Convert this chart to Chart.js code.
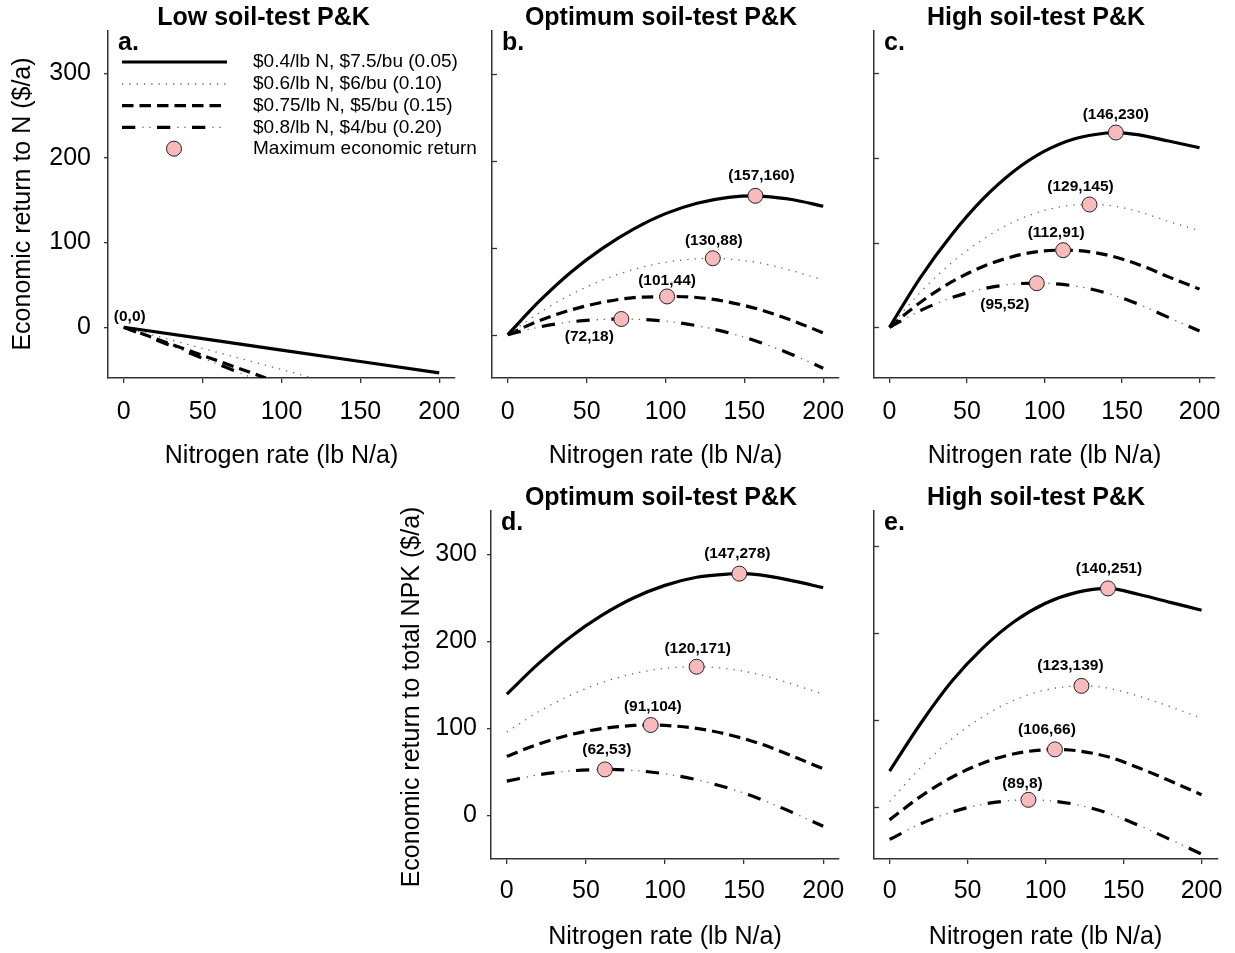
<!DOCTYPE html>
<html>
<head>
<meta charset="utf-8">
<script src="https://cdn.jsdelivr.net/npm/chart.js@4.4.1/dist/chart.umd.min.js"></script>
<style>
  html, body { margin: 0; padding: 0; background: #fff; }
  #page { position: relative; width: 1235px; height: 953px; overflow: hidden; }
  #page canvas { position: absolute; }
</style>
</head>
<body>
<div id="page"></div>
<script>
// ---- data ----
const nRate = [0, 20, 40, 60, 80, 100, 120, 140, 160, 180, 200];
const xTicks = [0, 50, 100, 150, 200];
const yTicks = [0, 100, 200, 300];

const seriesLabels = [
    '$0.4/lb N, $7.5/bu (0.05)',
    '$0.6/lb N, $6/bu (0.10)',
    '$0.75/lb N, $5/bu (0.15)',
    '$0.8/lb N, $4/bu (0.20)'
];
const markerLabel = 'Maximum economic return';

// a. low soil-test P&K, return to N (straight lines, cut at the axis)
const lowRate005 = [0, 50, 100, 150, 200];
const lowRet005 = [0, -13.5, -27, -40.5, -54];
const lowRate010 = [0, 40, 80, 120];
const lowRet010 = [0, -20, -40, -60];
const lowRate015 = [0, 30, 60, 90];
const lowRet015 = [0, -20, -40, -60];
const lowRate020 = [0, 27, 54, 82];
const lowRet020 = [0, -19.7, -39.5, -60];
const lowMax = [[0, 0]];

// b. optimum soil-test P&K, return to N
const optN005 = [0, 38.5, 72, 99.5, 122, 139.5, 151.5, 158.3, 159.7, 155.8, 148];
const optN010 = [0, 25.2, 46.1, 62.8, 75.2, 83.4, 87.4, 87.1, 82.6, 73.8, 63];
const optN015 = [0, 16, 28.4, 37.3, 42.7, 43.9, 42.8, 37.6, 28.8, 16.5, 2];
const optN020 = [0, 8.8, 14.7, 17.5, 17.8, 15.6, 10.2, 2.1, -9, -22.8, -38.7];
const optNMax = [[157, 160], [130, 88], [101, 44], [72, 18]];

// c. high soil-test P&K, return to N
const highN005 = [0, 59, 109, 151, 184, 208, 223, 229.5, 227.5, 220, 212];
const highN010 = [0, 41.5, 76, 103.5, 124.5, 138, 144.6, 144.3, 137, 125, 114];
const highN015 = [0, 29.5, 53.5, 71.5, 83.7, 90.3, 90.7, 85.5, 74.5, 59.5, 45];
const highN020 = [0, 19.7, 34.8, 45.2, 51, 51.9, 48.5, 40.4, 27.6, 11.6, -4.5];
const highNMax = [[146, 230], [129, 145], [112, 91], [95, 52]];

// d. optimum soil-test P&K, return to total NPK
const optNPK005 = [139.5, 174.5, 205, 230, 250, 264.5, 273.8, 277.6, 276.5, 270, 262];
const optNPK010 = [96, 119.3, 138.1, 152.7, 163, 169.1, 171, 168.6, 161.9, 151.2, 139.5];
const optNPK015 = [68, 82.1, 92.8, 99.9, 103.5, 103.6, 100.1, 93.1, 82.6, 68.7, 53.7];
const optNPK020 = [39.5, 46.7, 51.2, 52.9, 51.8, 47.9, 41.1, 31.5, 19.1, 3.9, -12.3];
const optNPKMax = [[147, 278], [120, 171], [91, 104], [62, 53]];

// e. high soil-test P&K, return to total NPK
const highNPK005 = [41, 96, 144.5, 183, 213, 234, 246.5, 251, 244, 235, 226];
const highNPK010 = [6, 45.3, 78.2, 103.9, 122.6, 134.3, 138.9, 136.4, 127, 115, 102];
const highNPK015 = [-15, 12, 34, 50.4, 61, 65.7, 64.5, 57.5, 44.6, 29.6, 13.8];
const highNPK020 = [-37.5, -19.5, -6, 3, 7.5, 7.3, 2.4, -7.3, -21.6, -37.6, -54.3];
const highNPKMax = [[140, 251], [123, 139], [106, 66], [89, 8]];

// ---- styles ----
const FONT = "'Liberation Sans', Arial, Helvetica, sans-serif";
const PINK = '#f8baba';
const AXIS = '#333';
const lineStyles = [
    { width: 3.2, color: '#000', dash: [] },
    { width: 1.3, color: '#666', dash: [1.3, 6] },
    { width: 3.2, color: '#000', dash: [11.5, 6] },
    { width: 3.2, color: '#000', dash: [13.3, 21.7], dots: { width: 1.3, color: '#666', dash: [1.3, 5.7, 1.3, 26.7], offset: 14.7 } }
];

Chart.defaults.font.family = FONT;
Chart.defaults.color = '#000';

function pts(xs, ys, peak) {
    let out = xs.map((x, i) => ({ x: x, y: ys[i] }));
    if (peak) {
        out = out.filter(p => p.x !== peak[0]);
        out.push({ x: peak[0], y: peak[1] });
        out.sort((a, b) => a.x - b.x);
    }
    return out;
}

const panels = [
    {
        left: 8, top: 0, w: 487, h: 480, areaW: 347, plotH: 347,
        yMin: -60, yMax: 350, yLabels: true, yPad: 13, xPad: 14,
        title: 'Low soil-test P&K', titleX: 255.5, letter: 'a.',
        yTitle: 'Economic return to N ($/a)', yTitleX: 15, yTitleY: 204,
        curves: [pts(lowRate005, lowRet005), pts(lowRate010, lowRet010), pts(lowRate015, lowRet015), pts(lowRate020, lowRet020)],
        smooth: false, maxPts: lowMax, showMarkers: false, noteOffsets: [[6, -11]], legend: true
    },
    {
        left: 392, top: 0, w: 487, h: 480, areaW: 347, plotH: 347,
        yMin: -50, yMax: 350, yLabels: false, xPad: 14,
        title: 'Optimum soil-test P&K', titleX: 269, letter: 'b.',
        curves: [optN005, optN010, optN015, optN020].map((v, i) => pts(nRate, v, optNMax[i])),
        smooth: true, maxPts: optNMax, showMarkers: true,
        noteOffsets: [[6, -20], [1, -18], [0, -16], [-32, 18]]
    },
    {
        left: 774, top: 0, w: 461, h: 480, areaW: 348, plotH: 347,
        yMin: -60, yMax: 350, yLabels: false, xPad: 14,
        title: 'High soil-test P&K', titleX: 262, letter: 'c.',
        curves: [highN005, highN010, highN015, highN020].map((v, i) => pts(nRate, v, highNMax[i])),
        smooth: true, maxPts: highNMax, showMarkers: true,
        noteOffsets: [[0, -18], [-9, -18], [-7, -17], [-32, 22]]
    },
    {
        left: 391, top: 480, w: 488, h: 473, areaW: 348, plotH: 348,
        yMin: -50, yMax: 350, yLabels: true, yPad: 10, xPad: 12,
        title: 'Optimum soil-test P&K', titleX: 270, letter: 'd.',
        yTitle: 'Economic return to total NPK ($/a)', yTitleX: 21, yTitleY: 217,
        curves: [optNPK005, optNPK010, optNPK015, optNPK020].map((v, i) => pts(nRate, v, optNPKMax[i])),
        smooth: true, maxPts: optNPKMax, showMarkers: true,
        noteOffsets: [[-2, -20], [1, -18], [2, -18], [2, -20]]
    },
    {
        left: 774, top: 480, w: 461, h: 473, areaW: 348, plotH: 348,
        yMin: -60, yMax: 340, yLabels: false, xPad: 12,
        title: 'High soil-test P&K', titleX: 262, letter: 'e.',
        curves: [highNPK005, highNPK010, highNPK015, highNPK020].map((v, i) => pts(nRate, v, highNPKMax[i])),
        smooth: true, maxPts: highNPKMax, showMarkers: true,
        noteOffsets: [[1, -20], [-11, -20], [-8, -20], [-6, -16]]
    }
];

function strokeSample(ctx, st, x1, x2, y) {
    ctx.save();
    ctx.lineWidth = st.width;
    ctx.strokeStyle = st.color;
    ctx.setLineDash(st.dash);
    ctx.lineDashOffset = st.offset || 0;
    ctx.beginPath();
    ctx.moveTo(x1, y);
    ctx.lineTo(x2, y);
    ctx.stroke();
    ctx.restore();
    if (st.dots) strokeSample(ctx, st.dots, x1, x2, y);
}

function drawMarker(ctx, x, y) {
    ctx.beginPath();
    ctx.arc(x, y, 7.5, 0, Math.PI * 2);
    ctx.fillStyle = PINK;
    ctx.fill();
    ctx.lineWidth = 1;
    ctx.strokeStyle = '#222';
    ctx.stroke();
}

function makeDecor(p) {
    return {
        id: 'decor',
        afterDraw(chart) {
            const ctx = chart.ctx;
            const area = chart.chartArea;
            const xs = chart.scales.x, ys = chart.scales.y;
            ctx.save();
            ctx.fillStyle = '#000';

            // title
            ctx.font = 'bold 25px ' + FONT;
            ctx.textAlign = 'center';
            ctx.textBaseline = 'middle';
            ctx.fillText(p.title, p.titleX, 18);

            // panel letter
            ctx.textAlign = 'left';
            ctx.fillText(p.letter, area.left + 10, area.top + 12);

            // axis titles
            ctx.font = '25px ' + FONT;
            ctx.textAlign = 'center';
            ctx.fillText('Nitrogen rate (lb N/a)', (area.left + area.right) / 2, area.bottom + 78);
            if (p.yTitle) {
                ctx.save();
                ctx.translate(p.yTitleX, p.yTitleY);
                ctx.rotate(-Math.PI / 2);
                ctx.fillText(p.yTitle, 0, 0);
                ctx.restore();
            }

            // inward ticks on unlabeled y axes
            if (!p.yLabels) {
                ctx.strokeStyle = AXIS;
                ctx.lineWidth = 1.3;
                yTicks.forEach(v => {
                    const y = Math.round(ys.getPixelForValue(v)) + 0.5;
                    ctx.beginPath();
                    ctx.moveTo(area.left, y);
                    ctx.lineTo(area.left + 5, y);
                    ctx.stroke();
                });
            }

            // labels of the maximum economic return points
            ctx.font = 'bold 15.5px ' + FONT;
            ctx.fillStyle = '#000';
            p.maxPts.forEach((m, i) => {
                const off = p.noteOffsets[i];
                ctx.fillText('(' + m[0] + ',' + m[1] + ')', xs.getPixelForValue(m[0]) + off[0], ys.getPixelForValue(m[1]) + off[1]);
            });

            // legend
            if (p.legend) {
                const rows = [62, 84, 105.7, 127.3];
                ctx.font = '19px ' + FONT;
                ctx.textAlign = 'left';
                rows.forEach((y, i) => {
                    strokeSample(ctx, lineStyles[i], 114, 219, y);
                    ctx.fillStyle = '#000';
                    ctx.fillText(seriesLabels[i], 245, y);
                });
                drawMarker(ctx, 166, 148.7);
                ctx.fillStyle = '#000';
                ctx.fillText(markerLabel, 245, 148.7);
            }
            ctx.restore();
        }
    };
}

const page = document.getElementById('page');

panels.forEach(p => {
    const canvas = document.createElement('canvas');
    canvas.width = p.w;
    canvas.height = p.h;
    canvas.style.left = p.left + 'px';
    canvas.style.top = p.top + 'px';
    canvas.style.width = p.w + 'px';
    canvas.style.height = p.h + 'px';
    page.appendChild(canvas);

    const datasets = [];
    p.curves.forEach((data, i) => {
        const st = lineStyles[i];
        const base = {
            data: data,
            pointRadius: 0,
            fill: false,
            borderCapStyle: 'butt',
            cubicInterpolationMode: p.smooth ? 'monotone' : 'default',
            tension: 0
        };
        datasets.push(Object.assign({}, base, {
            label: seriesLabels[i], borderColor: st.color, borderWidth: st.width, borderDash: st.dash
        }));
        if (st.dots) {
            datasets.push(Object.assign({}, base, {
                label: seriesLabels[i] + ' dots', borderColor: st.dots.color, borderWidth: st.dots.width,
                borderDash: st.dots.dash, borderDashOffset: st.dots.offset
            }));
        }
    });
    if (p.showMarkers) {
        datasets.push({
            label: markerLabel,
            data: p.maxPts.map(m => ({ x: m[0], y: m[1] })),
            showLine: false,
            pointRadius: 7.5,
            pointBackgroundColor: PINK,
            pointBorderColor: '#222',
            pointBorderWidth: 1,
            order: -1
        });
    }

    new Chart(canvas, {
        type: 'line',
        data: { datasets: datasets },
        options: {
            responsive: false,
            animation: false,
            devicePixelRatio: 1,
            layout: { padding: { left: 0, top: 31, right: p.w - 100 - p.areaW, bottom: 0 } },
            plugins: { legend: { display: false }, tooltip: { enabled: false }, title: { display: false } },
            scales: {
                x: {
                    type: 'linear',
                    min: -10,
                    max: 210,
                    afterBuildTicks: s => { s.ticks = xTicks.map(v => ({ value: v })); },
                    afterFit: s => { s.height = p.h - 31 - p.plotH; },
                    ticks: { font: { size: 25 }, color: '#000', padding: p.xPad, maxRotation: 0 },
                    grid: { drawOnChartArea: false, drawTicks: true, tickLength: 5, color: AXIS, lineWidth: 1.3 },
                    border: { display: true, color: AXIS, width: 1.5 }
                },
                y: {
                    type: 'linear',
                    min: p.yMin,
                    max: p.yMax,
                    afterBuildTicks: s => { s.ticks = yTicks.map(v => ({ value: v })); },
                    afterFit: s => { s.width = 100; },
                    ticks: { display: p.yLabels, font: { size: 25 }, color: '#000', padding: p.yPad || 0 },
                    grid: { drawOnChartArea: false, drawTicks: p.yLabels, tickLength: 4, color: AXIS, lineWidth: 1.3 },
                    border: { display: true, color: AXIS, width: 1.5 }
                }
            }
        },
        plugins: [makeDecor(p)]
    });
});
</script>
</body>
</html>
